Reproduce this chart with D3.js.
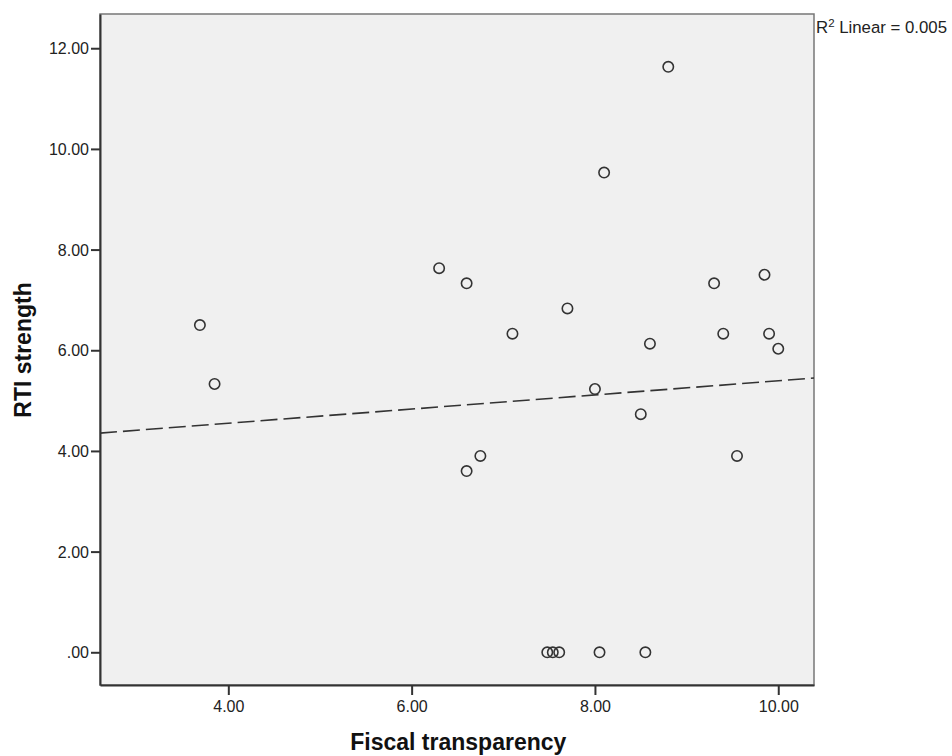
<!DOCTYPE html>
<html>
<head>
<meta charset="utf-8">
<script src="https://cdn.jsdelivr.net/npm/d3@7"></script>
<style>
  body { margin: 0; background: #fff; }
  svg { display: block; font-family: "Liberation Sans", Arial, Helvetica, sans-serif; }
</style>
</head>
<body>
<div id="chart"></div>
<script>
// Fiscal transparency vs RTI strength
const fiscal = [3.69, 3.85, 6.30, 6.60, 6.60, 6.75, 7.10, 7.70, 8.00, 8.60, 8.50, 9.30,
                9.85, 9.40, 9.90, 10.00, 9.55, 8.80, 8.10, 7.48, 7.54, 7.61, 8.05, 8.55];
const rti = [6.50, 5.33, 7.63, 7.33, 3.60, 3.90, 6.33, 6.83, 5.23, 6.13, 4.73, 7.33,
             7.50, 6.33, 6.33, 6.03, 3.90, 11.63, 9.53, 0, 0, 0, 0, 0];
const xTicks = [4, 6, 8, 10];
const yTicks = [0, 2, 4, 6, 8, 10, 12];
const xTitle = "Fiscal transparency";
const yTitle = "RTI strength";
const fitLabel = "0.005";

const points = fiscal.map((x, i) => ({ x: x, y: rti[i] }));

const width = 952, height = 756;
const margin = { top: 14, right: 138, bottom: 71, left: 100 };
const w = width - margin.left - margin.right;
const h = height - margin.top - margin.bottom;

const svg = d3.select("#chart").append("svg")
    .attr("width", width)
    .attr("height", height);

const g = svg.append("g")
    .attr("transform", `translate(${margin.left},${margin.top})`);

const x = d3.scaleLinear().domain([2.6, 10.39]).range([0, w]);
const y = d3.scaleLinear().domain([-0.65, 12.68]).range([h, 0]);

// plot background
g.append("rect")
    .attr("width", w)
    .attr("height", h)
    .attr("fill", "#f0f0f0")
    .attr("stroke", "#777")
    .attr("stroke-width", 1.5);

const fmt = d => d === 0 ? ".00" : d3.format(".2f")(d);

// axes
const xAxis = g.append("g")
    .attr("transform", `translate(0,${h})`)
    .call(d3.axisBottom(x).tickValues(xTicks).tickFormat(fmt).tickSize(10).tickSizeOuter(0).tickPadding(6));
const yAxis = g.append("g")
    .call(d3.axisLeft(y).tickValues(yTicks).tickFormat(fmt).tickSize(9).tickSizeOuter(0).tickPadding(2));

[xAxis, yAxis].forEach(ax => {
    ax.select(".domain").attr("stroke", "#333").attr("stroke-width", 2);
    ax.selectAll(".tick line").attr("stroke", "#333").attr("stroke-width", 2);
    ax.selectAll(".tick text")
        .attr("fill", "#222")
        .style("font-size", "16px")
        .style("font-family", "'Liberation Sans', Arial, sans-serif");
});
yAxis.selectAll(".tick text").attr("dy", "0.35em");

// linear fit line (least squares)
const mx = d3.mean(fiscal), my = d3.mean(rti);
const sxy = d3.sum(points, p => (p.x - mx) * (p.y - my));
const sxx = d3.sum(points, p => (p.x - mx) * (p.x - mx));
const slope = sxy / sxx;
const intercept = my - slope * mx;
const fitX = x.domain();

g.append("line")
    .attr("x1", x(fitX[0]))
    .attr("y1", y(intercept + slope * fitX[0]))
    .attr("x2", x(fitX[1]))
    .attr("y2", y(intercept + slope * fitX[1]))
    .attr("stroke", "#333")
    .attr("stroke-width", 1.6)
    .attr("stroke-dasharray", "17,6");

// points
g.selectAll("circle.pt")
    .data(points)
    .enter()
    .append("circle")
    .attr("class", "pt")
    .attr("cx", d => x(d.x))
    .attr("cy", d => y(d.y))
    .attr("r", 5.2)
    .attr("fill", "none")
    .attr("stroke", "#333")
    .attr("stroke-width", 1.6);

// R squared label
const r2 = svg.append("text")
    .attr("x", margin.left + w + 2)
    .attr("y", 33)
    .attr("fill", "#222")
    .style("font-size", "16.8px");
r2.append("tspan").text("R");
r2.append("tspan").attr("dy", -6).style("font-size", "11.5px").text("2");
r2.append("tspan").attr("dy", 6).text(" Linear = " + fitLabel);

// axis titles
svg.append("text")
    .attr("x", margin.left + (x(4) + x(10)) / 2 - 45)
    .attr("y", 750)
    .attr("text-anchor", "middle")
    .attr("fill", "#111")
    .style("font-size", "23px")
    .style("font-weight", "bold")
    .text(xTitle);

svg.append("text")
    .attr("transform", `translate(31,350) rotate(-90)`)
    .attr("text-anchor", "middle")
    .attr("fill", "#111")
    .style("font-size", "23px")
    .style("font-weight", "bold")
    .text(yTitle);
</script>
</body>
</html>
